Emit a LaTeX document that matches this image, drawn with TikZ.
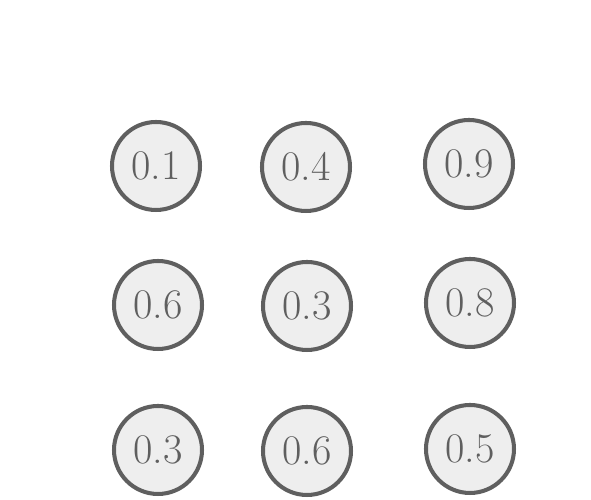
\documentclass[tikz,border=0pt]{standalone}
\usepackage{tikz}
\usepackage{xcolor}
\definecolor{ballgray}{HTML}{EEEEEE}
\definecolor{rimgray}{HTML}{5F5F5F}

\begin{document}
\begin{tikzpicture}[thick,>=latex]
    \tikzset{ball/.style={circle, draw=rimgray, fill=ballgray, line width=2.3pt,
        minimum size=1.76cm, inner sep=0pt, text=rimgray,
        font=\fontsize{24}{26}\selectfont}}

    \useasboundingbox (0,0) rectangle (11.82,10);

    % Top row
    \node[ball] (p1) at (3.12,6.68) {0.1};
    \node[ball] (p2) at (6.12,6.66) {0.4};
    \node[ball] (p3) at (9.38,6.72) {0.9};

    % Middle row
    \node[ball] (p4) at (3.16,3.90) {0.6};
    \node[ball] (p5) at (6.14,3.88) {0.3};
    \node[ball] (p6) at (9.40,3.94) {0.8};

    % Bottom row
    \node[ball] (p7) at (3.16,1.00) {0.3};
    \node[ball] (p8) at (6.14,0.98) {0.6};
    \node[ball] (p9) at (9.40,1.02) {0.5};
\end{tikzpicture}
\end{document}
